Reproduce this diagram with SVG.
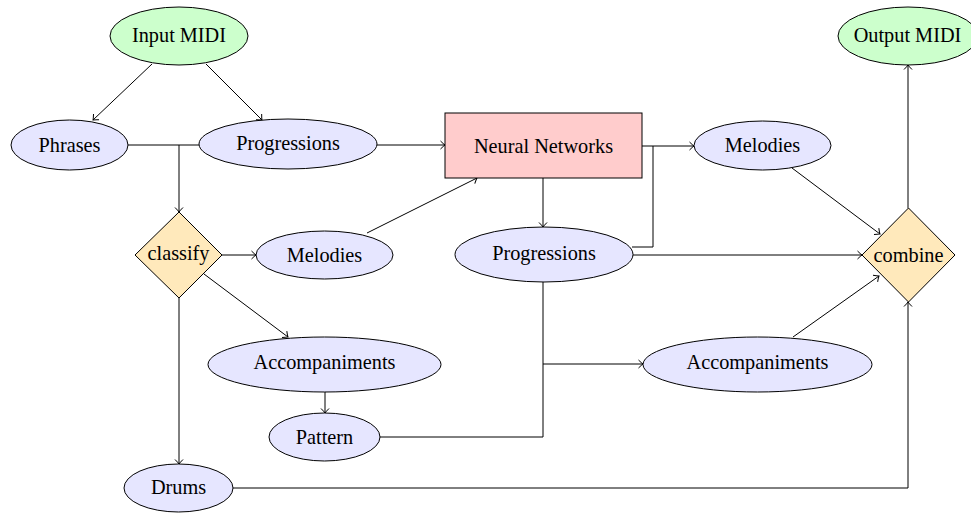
<svg xmlns="http://www.w3.org/2000/svg" width="971" height="513" viewBox="0 0 971 513">
  <style>
    .lbl { font-family: 'Liberation Serif', 'DejaVu Serif', serif; font-size: 20.3px; fill: #000; text-anchor: middle; dominant-baseline: central; }
    .blue { fill: #E6E6FF; stroke: #000; stroke-width: 1; }
    .green { fill: #CCFFCC; stroke: #000; stroke-width: 1; }
    .red { fill: #FFCCCC; stroke: #000; stroke-width: 1; }
    .dec { fill: #FFE9BB; stroke: #000; stroke-width: 1; }
    .edge { fill: none; stroke: #000; stroke-width: 1; }
    .arr { marker-end: url(#tip); }
  </style>
  <defs>
    <marker id="tip" markerUnits="userSpaceOnUse" markerWidth="12" markerHeight="12" refX="0" refY="0" viewBox="-6 -6 12 12" orient="auto">
      <path d="M -4.5 -4 Q -1.5 -1 0 0 Q -1.5 1 -4.5 4" fill="none" stroke="#000" stroke-width="1"/>
    </marker>
  </defs>

  <!-- connectors -->
  <g id="connectors">
    <line class="edge arr" x1="152" y1="64" x2="93" y2="120"/>
    <line class="edge arr" x1="206" y1="64" x2="262" y2="120"/>
    <line class="edge" x1="128" y1="145" x2="199" y2="145"/>
    <line class="edge arr" x1="179" y1="145" x2="179" y2="212"/>
    <line class="edge arr" x1="377" y1="145" x2="445" y2="145"/>
    <line class="edge arr" x1="222" y1="255" x2="256" y2="255"/>
    <line class="edge arr" x1="204" y1="274" x2="288" y2="337"/>
    <line class="edge arr" x1="179" y1="298" x2="179" y2="464"/>
    <line class="edge arr" x1="325" y1="392" x2="325" y2="413"/>
    <line class="edge arr" x1="367" y1="233" x2="477" y2="178"/>
    <line class="edge arr" x1="543" y1="178" x2="543" y2="227"/>
    <line class="edge arr" x1="642" y1="146" x2="694" y2="146"/>
    <polyline class="edge" points="632,247 653,247 653,146"/>
    <line class="edge arr" x1="633" y1="255" x2="862" y2="255"/>
    <line class="edge arr" x1="792" y1="168" x2="880" y2="234"/>
    <line class="edge arr" x1="908" y1="208" x2="908" y2="65"/>
    <line class="edge arr" x1="793" y1="337" x2="879" y2="276"/>
    <line class="edge" x1="543" y1="282" x2="543" y2="437"/>
    <line class="edge" x1="380" y1="437" x2="543" y2="437"/>
    <line class="edge arr" x1="543" y1="364" x2="643" y2="364"/>
    <polyline class="edge arr" points="233,488 908,488 908,302"/>
  </g>

  <g id="input-midi">
    <ellipse class="green" cx="179" cy="36" rx="69" ry="29"/>
    <text class="lbl" x="179" y="35">Input MIDI</text>
  </g>
  <g id="phrases">
    <ellipse class="blue" cx="69.5" cy="145" rx="58.5" ry="25"/>
    <text class="lbl" x="69.5" y="145">Phrases</text>
  </g>
  <g id="progressions-in">
    <ellipse class="blue" cx="288" cy="144" rx="89" ry="25"/>
    <text class="lbl" x="288" y="143">Progressions</text>
  </g>
  <g id="classify">
    <polygon class="dec" points="179,212 222,255 179,298 135,255"/>
    <text class="lbl" x="178.5" y="253">classify</text>
  </g>
  <g id="melodies-in">
    <ellipse class="blue" cx="324.5" cy="255" rx="68.5" ry="24"/>
    <text class="lbl" x="324.5" y="255">Melodies</text>
  </g>
  <g id="accompaniments-in">
    <ellipse class="blue" cx="324.5" cy="364.5" rx="116.5" ry="27.5"/>
    <text class="lbl" x="324.5" y="362">Accompaniments</text>
  </g>
  <g id="pattern">
    <ellipse class="blue" cx="324.5" cy="437" rx="55.5" ry="24"/>
    <text class="lbl" x="324.5" y="437">Pattern</text>
  </g>
  <g id="drums">
    <ellipse class="blue" cx="178.5" cy="488" rx="54.5" ry="24"/>
    <text class="lbl" x="178.5" y="487">Drums</text>
  </g>
  <g id="neural-networks">
    <rect class="red" x="445" y="113" width="197" height="65"/>
    <text class="lbl" x="543.5" y="146">Neural Networks</text>
  </g>
  <g id="progressions-out">
    <ellipse class="blue" cx="544" cy="254.5" rx="89" ry="27.5"/>
    <text class="lbl" x="544" y="253">Progressions</text>
  </g>
  <g id="melodies-out">
    <ellipse class="blue" cx="762.5" cy="145.5" rx="68.5" ry="24.5"/>
    <text class="lbl" x="762.5" y="145">Melodies</text>
  </g>
  <g id="accompaniments-out">
    <ellipse class="blue" cx="757.5" cy="364.5" rx="114.5" ry="27.5"/>
    <text class="lbl" x="757.5" y="362">Accompaniments</text>
  </g>
  <g id="combine">
    <polygon class="dec" points="908.5,208 955,255 908.5,302 862,255"/>
    <text class="lbl" x="908.5" y="255">combine</text>
  </g>
  <g id="output-midi">
    <ellipse class="green" cx="908" cy="36" rx="70" ry="29"/>
    <text class="lbl" x="907.5" y="35">Output MIDI</text>
  </g>
</svg>
